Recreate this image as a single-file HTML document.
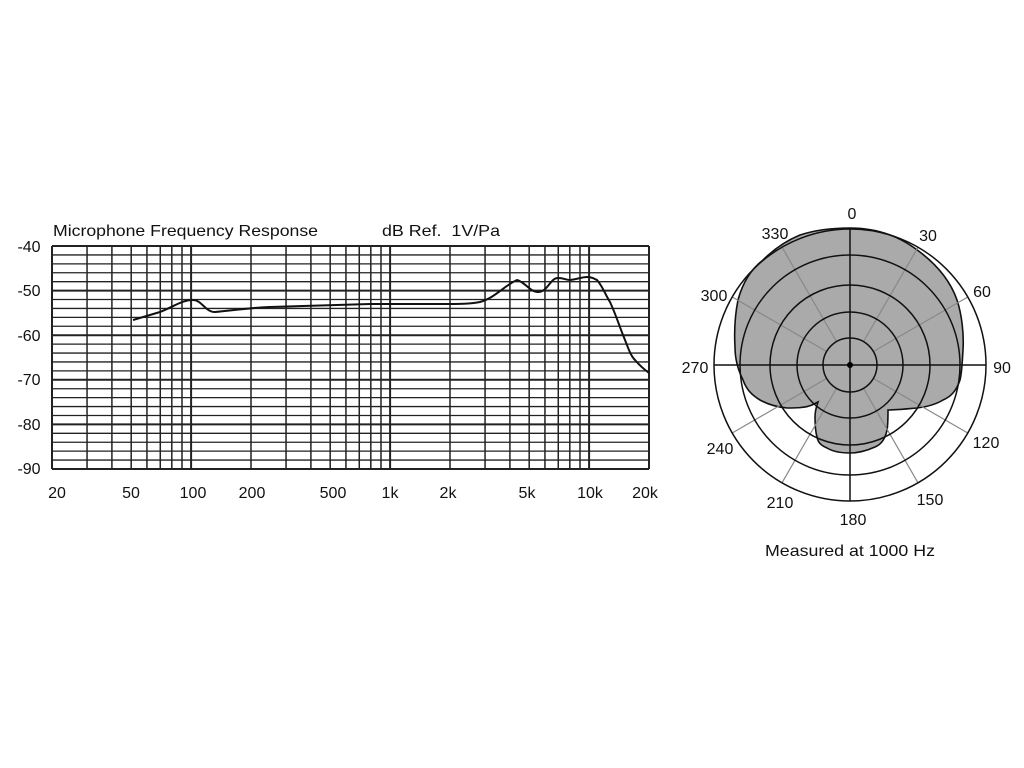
<!DOCTYPE html>
<html><head><meta charset="utf-8"><style>
html,body{margin:0;padding:0;background:#fff;}
svg{display:block;}
text{font-family:"Liberation Sans",Arial,sans-serif;fill:#111;}
</style></head><body>
<svg width="1024" height="768" viewBox="0 0 1024 768" xmlns="http://www.w3.org/2000/svg">
<rect width="1024" height="768" fill="#fff"/>
<g id="grid" stroke="#222" fill="none">
</g>
<script>
(function(){
var g=document.getElementById('grid');var ns='http://www.w3.org/2000/svg';
var L=52,R=649,T=246,B=469,D=199;
function ln(x1,y1,x2,y2,w){var e=document.createElementNS(ns,'line');e.setAttribute('x1',x1);e.setAttribute('y1',y1);e.setAttribute('x2',x2);e.setAttribute('y2',y2);e.setAttribute('stroke-width',w);g.appendChild(e);}
for(var i=0;i<=25;i++){var y=T+(B-T)*i/25;ln(L,y,R,y,(i%5==0)?2:1.3);}
var fs=[];for(var dec=10;dec<=10000;dec*=10){for(var k=1;k<10;k++){var f=dec*k;if(f>=20&&f<=20000)fs.push(f);}}fs.push(20000);
fs.forEach(function(f){var x=L+D*Math.log10(f/20);var m=(f==100||f==1000||f==10000||f==20||f==20000);ln(x,T,x,B,m?2:1.5);});
})();
</script>
<path d="M133,320 L160,312 C175,306 182,300 193,300 C202,300 205,312 215,312 C230,311 245,308 270,307 L370,304 L440,304 C460,304 470,304 480,302 C495,298 505,285 517,280 C525,282 530,292 538,292 C548,292 550,278 558,278 C564,278 566,280 570,280 C578,279 582,277 587,277 C593,277 594,279 597,280 C603,287 605,294 610,302 C616,315 619,325 623,335 C628,347 630,355 635,360 C640,366 645,370 649,373" fill="none" stroke="#111" stroke-width="2"/>
<text x="53" y="236" font-size="16" textLength="265" lengthAdjust="spacingAndGlyphs">Microphone Frequency Response</text>
<text x="382" y="236" font-size="16" textLength="118" lengthAdjust="spacingAndGlyphs">dB Ref.&#160; 1V/Pa</text>
<g font-size="16" text-anchor="middle">
<text x="29" y="252">-40</text><text x="29" y="296">-50</text><text x="29" y="341">-60</text><text x="29" y="385">-70</text><text x="29" y="430">-80</text><text x="29" y="474">-90</text>
<text x="57" y="498">20</text><text x="131" y="498">50</text><text x="193" y="498">100</text><text x="252" y="498">200</text><text x="333" y="498">500</text><text x="390" y="498">1k</text><text x="448" y="498">2k</text><text x="527" y="498">5k</text><text x="590" y="498">10k</text><text x="645" y="498">20k</text>
</g>
<path d="M850,228 C880,228 900,238 913,247 C935,262 950,280 957,300 C962,315 964,335 963,350 C962,365 962,372 960,380 C956,392 950,397 943,400 C935,405 925,407 917,408 C905,409 895,410 888,410 C888,418 888,425 887,430 C885,440 880,445 875,447 C866,451 858,453 850,453 C840,453 832,451 827,448 C820,445 818,442 817,437 C815,430 815,422 815,417 C815,410 817,405 818,402 L812,405 C805,408 795,408 787,408 C777,407 767,404 760,400 C750,394 746,388 743,380 C738,370 735,358 735,347 C734,330 735,315 738,300 C742,285 750,270 763,260 C775,248 788,240 800,235 C815,230 832,228 850,228 Z" fill="#aaa" stroke="#111" stroke-width="1.6"/>
<g stroke="#888" stroke-width="1.2" fill="none" id="spokes"></g>
<script>
(function(){var g=document.getElementById('spokes');var ns='http://www.w3.org/2000/svg';
for(var a=0;a<360;a+=30){if(a%90==0)continue;var r=a*Math.PI/180;var e=document.createElementNS(ns,'line');e.setAttribute('x1',850+27*Math.sin(r));e.setAttribute('y1',365-27*Math.cos(r));e.setAttribute('x2',850+136*Math.sin(r));e.setAttribute('y2',365-136*Math.cos(r));g.appendChild(e);}})();
</script>
<g stroke="#111" stroke-width="1.5" fill="none">
<circle cx="850" cy="365" r="27"/><circle cx="850" cy="365" r="53"/><circle cx="850" cy="365" r="80"/><circle cx="850" cy="365" r="110"/><circle cx="850" cy="365" r="136"/>
<line x1="850" y1="229" x2="850" y2="501"/><line x1="714" y1="365" x2="986" y2="365"/>
</g>
<circle cx="850" cy="365" r="3" fill="#000"/>
<g font-size="16" text-anchor="middle">
<text x="852" y="219">0</text><text x="775" y="239">330</text><text x="928" y="241">30</text>
<text x="714" y="301">300</text><text x="982" y="297">60</text>
<text x="695" y="373">270</text><text x="1002" y="373">90</text>
<text x="720" y="454">240</text><text x="986" y="448">120</text>
<text x="780" y="508">210</text><text x="930" y="505">150</text>
<text x="853" y="525">180</text>
<text x="850" y="556" textLength="170" lengthAdjust="spacingAndGlyphs">Measured at 1000 Hz</text>
</g>
</svg>
</body></html>
